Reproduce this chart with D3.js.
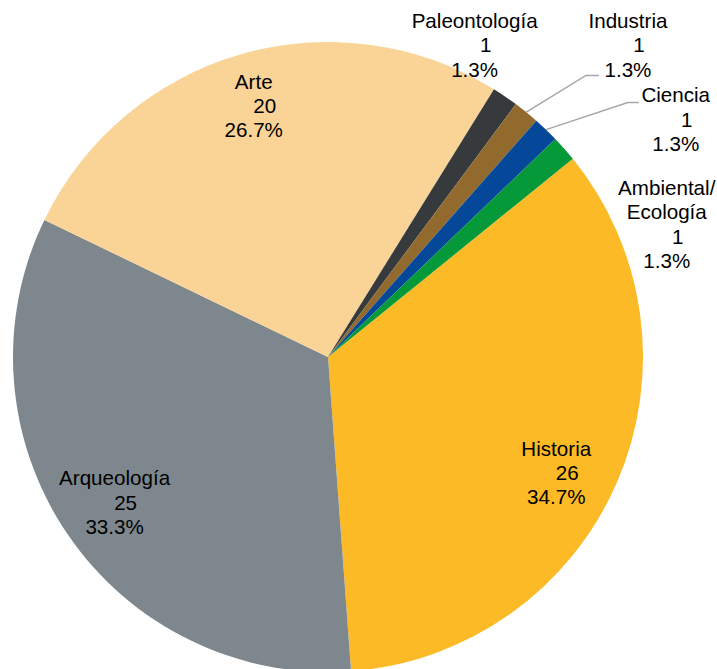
<!DOCTYPE html>
<html>
<head>
<meta charset="utf-8">
<script src="https://cdn.jsdelivr.net/npm/d3@7.9.0/dist/d3.min.js"></script>
<style>
  html, body { margin: 0; padding: 0; background: #fff; }
  svg { display: block; }
  text { font-family: "Liberation Sans", Arial, sans-serif; font-size: 20.6px; fill: #000; }
</style>
</head>
<body>
<div id="chart"></div>
<script>
// data (clockwise from Historia)
const categories = ['Historia', 'Arqueología', 'Arte', 'Paleontología', 'Industria', 'Ciencia', 'Ambiental/\nEcología'];
const counts     = [26, 25, 20, 1, 1, 1, 1];
const percents   = ['34.7%', '33.3%', '26.7%', '1.3%', '1.3%', '1.3%', '1.3%'];

// styling / layout
const colors = ['#FBBA26', '#7E878D', '#F9D496', '#363A3D', '#936A2E', '#05489A', '#05993A'];
const labelInside = [true, true, true, false, false, false, false];
const labelNudge  = [[-3, 16], [-5, 4], [-4, -9], [-57, -12], [72, -30], [97, 24], [67, 107]];
// leader lines: [elbow, end] relative to label centre (null = none)
const leaders = [null, null, null, null, [[-42, 30], [-29, 30]], [[-48, -17], [-37, -17]], null];

const width = 717, height = 669;
const cx = 328, cy = 357, radius = 315;
const lineH = 24.4;
const start = 51.0 * Math.PI / 180;

const svg = d3.select('#chart').append('svg')
  .attr('width', width).attr('height', height)
  .attr('viewBox', `0 0 ${width} ${height}`);

const rows = categories.map((c, i) => ({ cat: c, n: counts[i], pct: percents[i], i }));

const pie = d3.pie()
  .value(d => d.n)
  .sort(null)
  .startAngle(start)
  .endAngle(start + 2 * Math.PI);

const arcs = pie(rows);
const arc = d3.arc().innerRadius(0).outerRadius(radius);
const arcIn  = d3.arc().innerRadius(radius * 0.8).outerRadius(radius * 0.8);
const arcOut = d3.arc().innerRadius(radius * 1.15).outerRadius(radius * 1.15);
const arcEdge = d3.arc().innerRadius(radius).outerRadius(radius);

const g = svg.append('g').attr('transform', `translate(${cx},${cy})`);

g.selectAll('path.slice')
  .data(arcs)
  .join('path')
  .attr('class', 'slice')
  .attr('d', arc)
  .attr('fill', d => colors[d.data.i]);

// label centres
arcs.forEach(d => {
  const i = d.data.i;
  const c = labelInside[i] ? arcIn.centroid(d) : arcOut.centroid(d);
  d.lx = c[0] + labelNudge[i][0];
  d.ly = c[1] + labelNudge[i][1];
});

// leader lines
g.selectAll('polyline.leader')
  .data(arcs.filter(d => leaders[d.data.i]))
  .join('polyline')
  .attr('class', 'leader')
  .attr('fill', 'none')
  .attr('stroke', '#A6A6A6')
  .attr('stroke-width', 1.5)
  .attr('points', d => {
    const [elbow, end] = leaders[d.data.i];
    const p0 = arcEdge.centroid(d);
    return [p0, [d.lx + elbow[0], d.ly + elbow[1]], [d.lx + end[0], d.ly + end[1]]]
      .map(p => p.join(',')).join(' ');
  });

// labels
const labels = g.selectAll('text.lbl')
  .data(arcs)
  .join('text')
  .attr('class', 'lbl')
  .attr('text-anchor', 'middle');

labels.each(function (d) {
  const lines = d.data.cat.split('\n').map(s => ({ s, dx: 0 }));
  lines.push({ s: String(d.data.n), dx: 11 });
  lines.push({ s: d.data.pct, dx: 0 });
  const top = -((lines.length - 1) * lineH) / 2 + 7;
  d3.select(this).selectAll('tspan')
    .data(lines)
    .join('tspan')
    .attr('x', l => d.lx + l.dx)
    .attr('y', (l, k) => d.ly + top + k * lineH)
    .text(l => l.s);
});
</script>
</body>
</html>
